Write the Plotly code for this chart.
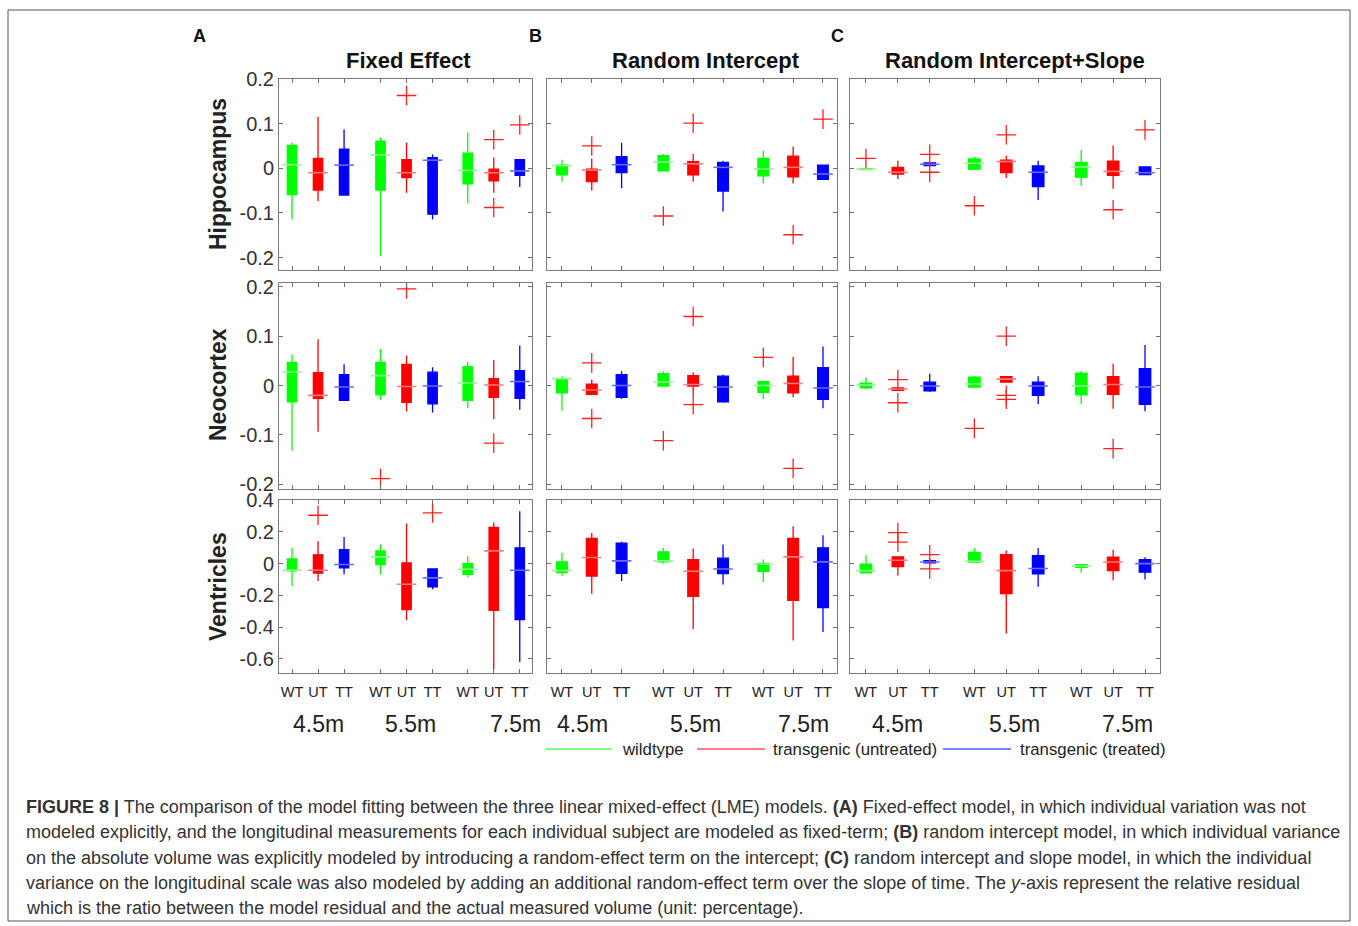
import plotly.graph_objects as go

W, H = 1358, 926
groups = ["WT", "UT", "TT"]
timepoints = ["4.5m", "5.5m", "7.5m"]
regions = ["Hippocampus", "Neocortex", "Ventricles"]
models = ["Fixed Effect", "Random Intercept", "Random Intercept+Slope"]
legend_names = ["wildtype", "transgenic (untreated)", "transgenic (treated)"]
colors = ["#00ff00", "#ff0000", "#0000ff"]
median_colors = ["#8cff8c", "#ff7a7a", "#6a6aff"]
positions = [0, 1, 2, 3.4, 4.4, 5.4, 6.75, 7.75, 8.75]

# rows: [lower whisker, q1, median, q3, upper whisker]; order WT,UT,TT at 4.5m, then 5.5m, then 7.5m
hip_fixed = [[-0.115, -0.059, 0.008, 0.051, 0.057], [-0.074, -0.049, -0.010, 0.022, 0.115],
             [-0.060, -0.060, 0.007, 0.043, 0.087], [-0.197, -0.049, 0.030, 0.061, 0.069],
             [-0.055, -0.021, -0.010, 0.019, 0.057], [-0.115, -0.103, 0.018, 0.024, 0.031],
             [-0.078, -0.035, -0.005, 0.034, 0.080], [-0.055, -0.028, -0.010, -0.002, 0.024],
             [-0.042, -0.016, -0.006, 0.019, 0.019]]
hip_fixed_out = [(4, 0.163), (7, 0.064), (7, -0.088), (8, 0.097)]
hip_rint = [[-0.030, -0.015, 0.006, 0.007, 0.019], [-0.050, -0.030, -0.004, -0.002, 0.022],
            [-0.045, -0.010, 0.008, 0.026, 0.057], [-0.007, -0.006, 0.014, 0.028, 0.032],
            [-0.030, -0.015, 0.010, 0.015, 0.032], [-0.097, -0.051, 0.002, 0.013, 0.017],
            [-0.034, -0.017, -0.002, 0.022, 0.040], [-0.034, -0.019, 0.002, 0.027, 0.049],
            [-0.025, -0.025, -0.013, 0.007, 0.007]]
hip_rint_out = [(1, 0.050), (3, -0.107), (4, 0.101), (7, -0.149), (8, 0.110)]
hip_rslope = [[-0.002, -0.003, -0.002, -0.001, -0.002], [-0.024, -0.013, -0.009, 0.002, 0.017],
              [0.006, 0.006, 0.009, 0.012, 0.012], [-0.003, -0.002, 0.011, 0.021, 0.025],
              [-0.022, -0.010, 0.015, 0.018, 0.028], [-0.071, -0.041, -0.009, 0.005, 0.017],
              [-0.039, -0.020, 0.003, 0.013, 0.041], [-0.046, -0.016, -0.007, 0.016, 0.051],
              [-0.014, -0.014, -0.010, 0.003, 0.003]]
hip_rslope_out = [(0, 0.022), (2, 0.031), (2, -0.009), (3, -0.084), (4, 0.075), (7, -0.093), (8, 0.086)]

neo_fixed = [[-0.132, -0.033, 0.027, 0.047, 0.063], [-0.094, -0.026, -0.020, 0.026, 0.094],
             [-0.030, -0.030, -0.003, 0.022, 0.043], [-0.029, -0.019, 0.020, 0.047, 0.074],
             [-0.053, -0.034, -0.002, 0.043, 0.061], [-0.055, -0.037, -0.001, 0.027, 0.037],
             [-0.046, -0.030, 0.005, 0.038, 0.048], [-0.068, -0.024, 0.001, 0.014, 0.052],
             [-0.049, -0.026, 0.008, 0.030, 0.081]]
neo_fixed_out = [(3, -0.189), (4, 0.196), (7, -0.117)]
neo_rint = [[-0.051, -0.015, 0.014, 0.014, 0.019], [-0.020, -0.018, -0.009, 0.003, 0.012],
            [-0.027, -0.024, 0.000, 0.022, 0.029], [-0.001, -0.001, 0.007, 0.024, 0.029],
            [-0.020, -0.001, 0.002, 0.020, 0.027], [-0.035, -0.033, -0.003, 0.019, 0.022],
            [-0.028, -0.014, 0.000, 0.008, 0.008], [-0.024, -0.015, 0.004, 0.019, 0.058],
            [-0.046, -0.028, -0.005, 0.036, 0.079]]
neo_rint_out = [(1, 0.046), (1, -0.067), (3, -0.112), (4, 0.140), (4, -0.039), (6, 0.057), (7, -0.168)]
neo_rslope = [[-0.008, -0.005, 0.001, 0.005, 0.017], [-0.010, -0.010, -0.007, -0.005, -0.005],
              [-0.013, -0.011, -0.001, 0.007, 0.024], [-0.003, -0.003, 0.003, 0.017, 0.020],
              [0.007, 0.007, 0.013, 0.018, 0.018], [-0.038, -0.020, -0.001, 0.007, 0.019],
              [-0.038, -0.019, -0.001, 0.025, 0.030], [-0.047, -0.018, 0.002, 0.018, 0.044],
              [-0.052, -0.038, -0.003, 0.034, 0.082]]
neo_rslope_out = [(1, 0.012), (1, -0.035), (3, -0.087), (4, 0.100), (4, -0.020), (4, -0.028), (7, -0.128)]

ven_fixed = [[-0.141, -0.046, -0.042, 0.029, 0.099], [-0.109, -0.059, -0.042, 0.055, 0.141],
             [-0.067, -0.027, -0.006, 0.088, 0.168], [-0.069, -0.006, 0.042, 0.080, 0.122],
             [-0.357, -0.290, -0.130, 0.004, 0.252], [-0.162, -0.147, -0.090, -0.034, -0.034],
             [-0.088, -0.067, -0.036, 0.000, 0.046], [-0.665, -0.294, 0.080, 0.227, 0.258],
             [-0.619, -0.353, -0.042, 0.099, 0.330]]
ven_fixed_out = [(1, 0.304), (5, 0.319)]
ven_rint = [[-0.078, -0.057, -0.044, 0.011, 0.069], [-0.189, -0.078, 0.038, 0.158, 0.193],
            [-0.109, -0.061, 0.017, 0.128, 0.137], [0.000, 0.011, 0.017, 0.074, 0.099],
            [-0.412, -0.206, -0.048, 0.025, 0.095], [-0.132, -0.063, -0.034, 0.034, 0.120],
            [-0.116, -0.048, -0.004, 0.002, 0.025], [-0.483, -0.231, 0.042, 0.158, 0.235],
            [-0.431, -0.277, 0.011, 0.099, 0.179]]
ven_rint_out = []
ven_rslope = [[-0.058, -0.058, -0.044, -0.004, 0.052], [-0.075, -0.019, 0.021, 0.042, 0.042],
              [0.004, 0.004, 0.010, 0.019, 0.019], [0.010, 0.010, 0.015, 0.071, 0.098],
              [-0.439, -0.189, -0.044, 0.056, 0.083], [-0.146, -0.064, -0.031, 0.050, 0.098],
              [-0.058, -0.023, -0.015, -0.006, -0.006], [-0.104, -0.044, 0.010, 0.040, 0.087],
              [-0.100, -0.054, 0.000, 0.025, 0.040]]
ven_rslope_out = [(1, 0.195), (1, 0.135), (2, 0.056), (2, -0.033)]

y_tickvals = [[-0.2, -0.1, 0, 0.1, 0.2], [-0.2, -0.1, 0, 0.1, 0.2], [-0.6, -0.4, -0.2, 0, 0.2, 0.4]]
y_ticktext = [["-0.2", "-0.1", "0", "0.1", "0.2"], ["-0.2", "-0.1", "0", "0.1", "0.2"],
              ["-0.6", "-0.4", "-0.2", "0", "0.2", "0.4"]]
y_ranges = [[-0.228, 0.2], [-0.21, 0.209], [-0.69, 0.4]]

panels = [[(hip_fixed, hip_fixed_out), (hip_rint, hip_rint_out), (hip_rslope, hip_rslope_out)],
          [(neo_fixed, neo_fixed_out), (neo_rint, neo_rint_out), (neo_rslope, neo_rslope_out)],
          [(ven_fixed, ven_fixed_out), (ven_rint, ven_rint_out), (ven_rslope, ven_rslope_out)]]

col_px = [(279, 532), (547, 837), (850, 1160)]
row_px = [(79, 270), (282.5, 489), (500, 673.3)]


def pxx(x):
    return x / W


def pxy(y):
    return 1 - y / H


FONT = "Liberation Sans, Arial, sans-serif"
fig = go.Figure()
layout = {}
for r in range(3):
    for c in range(3):
        k = r * 3 + c + 1
        sfx = "" if k == 1 else str(k)
        stats, outs = panels[r][c]
        for g in range(3):
            idx = [t * 3 + g for t in range(3)]
            xs = [positions[i] for i in idx]
            fig.add_trace(go.Box(
                x=xs,
                lowerfence=[stats[i][0] for i in idx],
                q1=[stats[i][1] for i in idx],
                median=[stats[i][2] for i in idx],
                q3=[stats[i][3] for i in idx],
                upperfence=[stats[i][4] for i in idx],
                width=0.36, whiskerwidth=0,
                line=dict(color=colors[g], width=1.3),
                fillcolor=colors[g], boxpoints=False,
                showlegend=False, hoverinfo="skip",
                xaxis="x" + sfx, yaxis="y" + sfx))
            fig.add_trace(go.Scatter(
                x=xs, y=[stats[i][2] for i in idx], mode="markers",
                marker=dict(symbol="line-ew", size=14,
                            line=dict(color=median_colors[g], width=1.6)),
                showlegend=False, hoverinfo="skip",
                xaxis="x" + sfx, yaxis="y" + sfx))
        if outs:
            fig.add_trace(go.Scatter(
                x=[positions[i] for i, v in outs], y=[v for i, v in outs], mode="markers",
                marker=dict(symbol="cross-thin", size=14,
                            line=dict(color="#ff2020", width=1.3)),
                showlegend=False, hoverinfo="skip",
                xaxis="x" + sfx, yaxis="y" + sfx))
        x0, x1 = col_px[c]
        y0, y1 = row_px[r]
        layout["xaxis" + sfx] = dict(
            domain=[pxx(x0), pxx(x1)], range=[-0.5, 9.22], anchor="y" + sfx,
            tickvals=positions, ticktext=groups * 3 if r == 2 else [""] * 9,
            showticklabels=(r == 2), ticks="inside", ticklen=4, tickcolor="#6f6f6f",
            showline=True, linecolor="#7a7a7a", linewidth=1, mirror="ticks",
            showgrid=False, zeroline=False, automargin=False, ticklabelstandoff=5,
            tickfont=dict(family=FONT, size=14.5, color="#222"))
        layout["yaxis" + sfx] = dict(
            domain=[pxy(y1), pxy(y0)], range=y_ranges[r], anchor="x" + sfx,
            tickvals=y_tickvals[r], ticktext=y_ticktext[r],
            showticklabels=(c == 0), ticks="inside", ticklen=4, tickcolor="#6f6f6f",
            showline=True, linecolor="#7a7a7a", linewidth=1, mirror="ticks",
            showgrid=False, zeroline=False, automargin=False,
            tickfont=dict(family=FONT, size=20, color="#333"))

annotations = []
# column titles and panel letters
title_x = [408, 706, 1015]
letters = ["A", "B", "C"]
letter_x = [199, 535, 837]
for c in range(3):
    annotations.append(dict(x=pxx(title_x[c]), y=pxy(60), xref="paper", yref="paper",
                            text="<b>%s</b>" % models[c], showarrow=False,
                            font=dict(family=FONT, size=22, color="#111"),
                            xanchor="center", yanchor="middle"))
    annotations.append(dict(x=pxx(letter_x[c]), y=pxy(36), xref="paper", yref="paper",
                            text="<b>%s</b>" % letters[c], showarrow=False,
                            font=dict(family=FONT, size=18, color="#111"),
                            xanchor="center", yanchor="middle"))
# row titles
row_title_y = [174, 385, 587]
for r in range(3):
    annotations.append(dict(x=pxx(218), y=pxy(row_title_y[r]), xref="paper", yref="paper",
                            text="<b>%s</b>" % regions[r], showarrow=False, textangle=-90,
                            font=dict(family=FONT, size=23, color="#222"),
                            xanchor="center", yanchor="middle"))
# timepoint labels
tp_x = [[318, 410, 515], [582, 696, 803], [897, 1014, 1127]]
for c in range(3):
    for t in range(3):
        annotations.append(dict(x=pxx(tp_x[c][t]), y=pxy(724), xref="paper", yref="paper",
                                text=timepoints[t], showarrow=False,
                                font=dict(family=FONT, size=23, color="#222"),
                                xanchor="center", yanchor="middle"))
# legend
shapes = []
leg_line = [(545, 612), (697, 765), (943, 1011)]
leg_text_x = [620, 771, 1018]
for g in range(3):
    shapes.append(dict(type="line", xref="paper", yref="paper",
                       x0=pxx(leg_line[g][0]), x1=pxx(leg_line[g][1]), y0=pxy(749), y1=pxy(749),
                       line=dict(color=colors[g], width=1.2)))
    annotations.append(dict(x=pxx(leg_text_x[g]), y=pxy(749), xref="paper", yref="paper",
                            text=legend_names[g], showarrow=False,
                            font=dict(family=FONT, size=16.8, color="#222"),
                            xanchor="left", yanchor="middle"))
# outer border
shapes.append(dict(type="rect", xref="paper", yref="paper", x0=pxx(8), x1=pxx(1350),
                   y0=pxy(921), y1=pxy(10), line=dict(color="#555", width=1)))

caption = [
    "<b>FIGURE 8 |</b> The comparison of the model fitting between the three linear mixed-effect (LME) models. <b>(A)</b> Fixed-effect model, in which individual variation was not",
    "modeled explicitly, and the longitudinal measurements for each individual subject are modeled as fixed-term; <b>(B)</b> random intercept model, in which individual variance",
    "on the absolute volume was explicitly modeled by introducing a random-effect term on the intercept; <b>(C)</b> random intercept and slope model, in which the individual",
    "variance on the longitudinal scale was also modeled by adding an additional random-effect term over the slope of time. The <i>y</i>-axis represent the relative residual",
    "which is the ratio between the model residual and the actual measured volume (unit: percentage).",
]
cap_y = [807, 832, 858, 883, 908]
for i, line in enumerate(caption):
    annotations.append(dict(x=pxx(24), y=pxy(cap_y[i]), xref="paper", yref="paper",
                            text=line, showarrow=False,
                            font=dict(family=FONT, size=18, color="#333"),
                            xanchor="left", yanchor="middle"))

fig.update_layout(width=W, height=H,
                  margin=dict(l=0, r=0, t=0, b=0, pad=0, autoexpand=False),
                  paper_bgcolor="white", plot_bgcolor="white",
                  boxmode="overlay", annotations=annotations, shapes=shapes, **layout)
fig.write_html("out.html")
